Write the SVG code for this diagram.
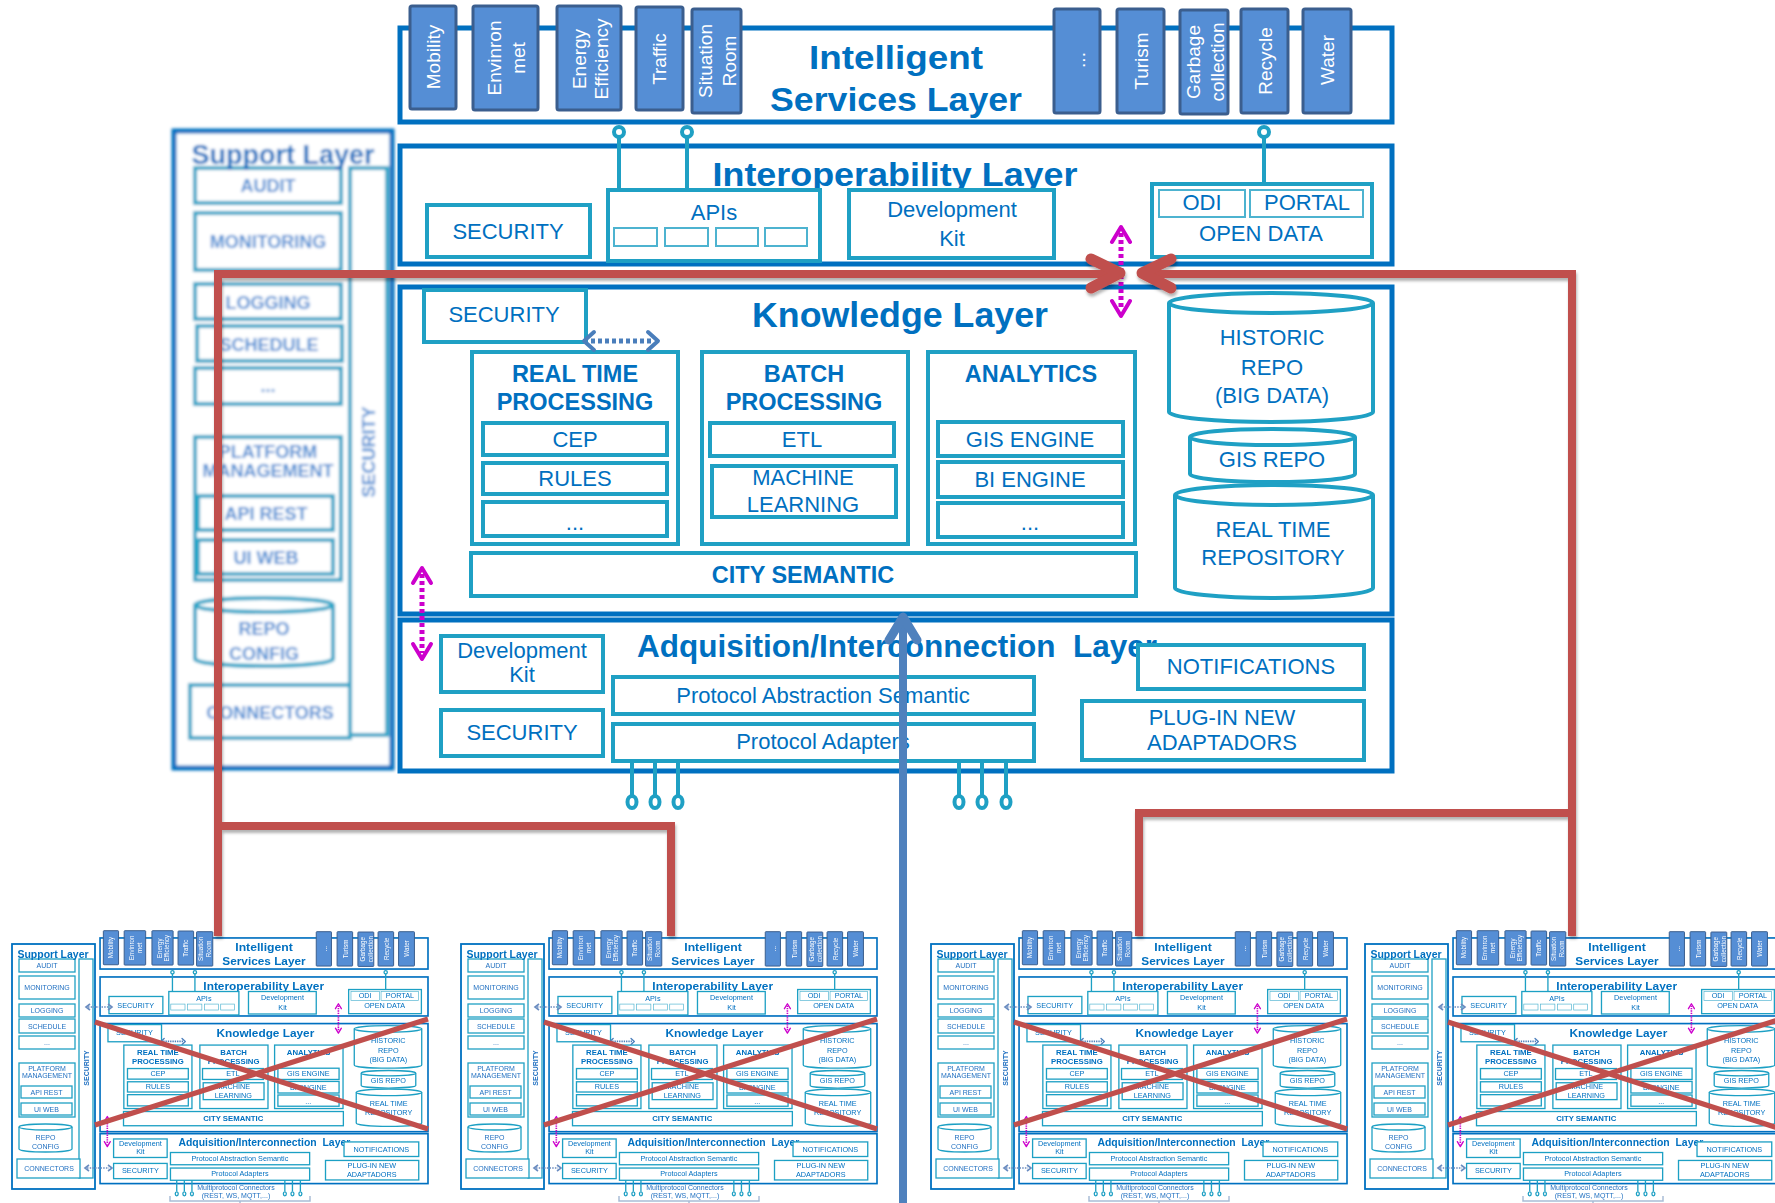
<svg xmlns="http://www.w3.org/2000/svg" width="1775" height="1203" viewBox="0 0 1775 1203">
<defs>
<style>
.lay{fill:#fff;stroke:#0070C0;stroke-width:5}
.bx{fill:#fff;stroke:#1FA0C4;stroke-width:4}
.bx2{fill:#fff;stroke:#4DB3D0;stroke-width:2}
.tile{fill:#558ED5;stroke:#3B5E8E;stroke-width:3}
.tt{font-family:"Liberation Sans",Arial,sans-serif;font-size:19px;fill:#fff;text-anchor:middle;dominant-baseline:central}
.ttl{font-family:"Liberation Sans",Arial,sans-serif;font-weight:bold;fill:#0070C0;text-anchor:middle}
.t{font-family:"Liberation Sans",Arial,sans-serif;fill:#0070C0;text-anchor:middle;font-size:22px}
.tb{font-family:"Liberation Sans",Arial,sans-serif;fill:#0070C0;text-anchor:middle;font-weight:bold;font-size:23.5px}
.lol{fill:none;stroke:#1FA0C4;stroke-width:4}
.lolc{fill:#fff;stroke:#1FA0C4;stroke-width:4}
.mag{fill:none;stroke:#CC00CC;stroke-width:4;stroke-linecap:round;stroke-linejoin:round}
.magd{fill:none;stroke:#CC00CC;stroke-width:5;stroke-dasharray:4 3}
.bla{fill:none;stroke:#4A7EBB;stroke-width:4;stroke-linecap:round;stroke-linejoin:round}
.blad{fill:none;stroke:#4A7EBB;stroke-width:5;stroke-dasharray:4 3}
.sbx{fill:#fff;stroke:#2BA6C8;stroke-width:4}
.st{font-family:"Liberation Sans",Arial,sans-serif;font-weight:bold;fill:#4A8DD3;text-anchor:middle;font-size:18px}
.mlay{fill:#fff;stroke:#0070C0;stroke-width:1.8}
.mbx{fill:#fff;stroke:#1FA0C4;stroke-width:1.3}
.mt{font-family:"Liberation Sans",Arial,sans-serif;fill:#1F6FC0;text-anchor:middle;font-size:7px}
.mda{fill:none;stroke:#6A8CC0;stroke-width:1.6;stroke-dasharray:1.5 1.2}
.mdh{fill:none;stroke:#6A8CC0;stroke-width:1.6}
.red{fill:none;stroke:#C0504D;stroke-width:8}
</style>
<filter id="blur" x="-5%" y="-5%" width="110%" height="110%"><feGaussianBlur stdDeviation="1.4"/></filter>
<filter id="soft" x="-2%" y="-2%" width="104%" height="104%"><feGaussianBlur stdDeviation="0.45"/></filter>
<filter id="shadow" filterUnits="userSpaceOnUse" x="0" y="0" width="1775" height="1203"><feDropShadow dx="1" dy="3" stdDeviation="1.5" flood-color="#000" flood-opacity="0.3"/></filter>
</defs>
<rect width="1775" height="1203" fill="#fff"/>

<g id="core">
 <g id="intelligent-layer">
  <rect class="lay" x="400" y="28" width="992" height="94"/>
  <text class="ttl" x="896" y="69" font-size="33" textLength="174" lengthAdjust="spacingAndGlyphs">Intelligent</text>
  <text class="ttl" x="896" y="111" font-size="33" textLength="252" lengthAdjust="spacingAndGlyphs">Services Layer</text>
 </g>
 <g id="svc-mobility"><rect class="tile" x="410" y="6" width="46" height="103" rx="2"/><text class="tt" transform="translate(433,57) rotate(-90)">Mobility</text></g>
 <g id="svc-environment"><rect class="tile" x="473" y="6" width="65" height="104" rx="2"/><text class="tt" transform="translate(494,58) rotate(-90)">Envinron</text><text class="tt" transform="translate(518,58) rotate(-90)">met</text></g>
 <g id="svc-energy"><rect class="tile" x="557" y="6" width="64" height="104" rx="2"/><text class="tt" font-size="17" transform="translate(579,59) rotate(-90)">Energy</text><text class="tt" font-size="17" transform="translate(601,59) rotate(-90)">Efficiency</text></g>
 <g id="svc-traffic"><rect class="tile" x="636" y="7" width="47" height="103" rx="2"/><text class="tt" transform="translate(659,59) rotate(-90)">Traffic</text></g>
 <g id="svc-situation"><rect class="tile" x="692" y="9" width="49" height="104" rx="2"/><text class="tt" transform="translate(705,61) rotate(-90)">Situation</text><text class="tt" transform="translate(729,61) rotate(-90)">Room</text></g>
 <g id="svc-more"><rect class="tile" x="1054" y="9" width="46" height="104" rx="2"/><text class="tt" transform="translate(1078,60) rotate(-90)">...</text></g>
 <g id="svc-turism"><rect class="tile" x="1117" y="9" width="47" height="104" rx="2"/><text class="tt" transform="translate(1141,61) rotate(-90)">Turism</text></g>
 <g id="svc-garbage"><rect class="tile" x="1180" y="10" width="48" height="104" rx="2"/><text class="tt" transform="translate(1193,62) rotate(-90)">Garbage</text><text class="tt" transform="translate(1217,62) rotate(-90)">collection</text></g>
 <g id="svc-recycle"><rect class="tile" x="1241" y="9" width="47" height="104" rx="2"/><text class="tt" transform="translate(1265,61) rotate(-90)">Recycle</text></g>
 <g id="svc-water"><rect class="tile" x="1303" y="9" width="48" height="104" rx="2"/><text class="tt" transform="translate(1327,60) rotate(-90)">Water</text></g>

 <g id="interop-layer">
  <rect class="lay" x="400" y="146" width="992" height="118"/>
  <text class="ttl" x="895" y="186" font-size="33" textLength="365" lengthAdjust="spacingAndGlyphs">Interoperability Layer</text>
 </g>
 <g id="interop-security"><rect class="bx" x="427" y="205" width="163" height="52"/><text class="t" x="508" y="239">SECURITY</text></g>
 <g id="apis"><rect class="bx" x="608" y="190" width="212" height="71"/><text class="t" x="714" y="220" font-size="24">APIs</text>
  <rect class="bx2" x="614" y="228" width="43" height="18"/><rect class="bx2" x="665" y="228" width="43" height="18"/><rect class="bx2" x="716" y="228" width="42" height="18"/><rect class="bx2" x="765" y="228" width="42" height="18"/></g>
 <g id="interop-devkit"><rect class="bx" x="849" y="190" width="205" height="68"/><text class="t" x="952" y="217" font-size="24">Development</text><text class="t" x="952" y="246" font-size="24">Kit</text></g>
 <g id="open-data"><rect class="bx" x="1152" y="184" width="220" height="73"/><rect class="bx2" x="1159" y="190" width="86" height="27"/><rect class="bx2" x="1250" y="190" width="113" height="27"/>
  <text class="t" x="1202" y="210" font-size="18">ODI</text><text class="t" x="1307" y="210" font-size="17.5">PORTAL</text><text class="t" x="1261" y="241" font-size="21.5">OPEN DATA</text></g>
 <g id="api-links">
  <path class="lol" d="M619,137 V190 M687,137 V190 M1264,137 V184"/>
  <circle class="lolc" cx="619" cy="132" r="5"/><circle class="lolc" cx="687" cy="132" r="5"/><circle class="lolc" cx="1264" cy="132" r="5"/>
 </g>

 <g id="knowledge-layer">
  <rect class="lay" x="400" y="287" width="992" height="327"/>
  <text class="ttl" x="900" y="327" font-size="35" textLength="296" lengthAdjust="spacingAndGlyphs">Knowledge Layer</text>
 </g>
 <g id="k-security"><rect class="bx" x="424" y="290" width="162" height="52"/><text class="t" x="504" y="322">SECURITY</text></g>
 <g id="real-time"><rect class="bx" x="472" y="352" width="206" height="192"/>
  <text class="tb" x="575" y="382">REAL TIME</text><text class="tb" x="575" y="410">PROCESSING</text>
  <rect class="bx" x="483" y="423" width="184" height="32"/><text class="t" x="575" y="447" font-size="21.5">CEP</text>
  <rect class="bx" x="483" y="463" width="184" height="31"/><text class="t" x="575" y="486" font-size="21.5">RULES</text>
  <rect class="bx" x="483" y="502" width="184" height="34"/><text class="t" x="575" y="530" font-size="21.5">...</text></g>
 <g id="batch"><rect class="bx" x="702" y="352" width="206" height="192"/>
  <text class="tb" x="804" y="382">BATCH</text><text class="tb" x="804" y="410">PROCESSING</text>
  <rect class="bx" x="710" y="423" width="184" height="33"/><text class="t" x="802" y="447" font-size="21.5">ETL</text>
  <rect class="bx" x="712" y="466" width="184" height="51"/><text class="t" x="803" y="485" font-size="21.5">MACHINE</text><text class="t" x="803" y="512" font-size="21.5">LEARNING</text></g>
 <g id="analytics"><rect class="bx" x="928" y="352" width="207" height="192"/>
  <text class="tb" x="1031" y="382">ANALYTICS</text>
  <rect class="bx" x="938" y="422" width="185" height="34"/><text class="t" x="1030" y="447" font-size="21.5">GIS ENGINE</text>
  <rect class="bx" x="938" y="462" width="185" height="35"/><text class="t" x="1030" y="487" font-size="21.5">BI ENGINE</text>
  <rect class="bx" x="938" y="503" width="185" height="34"/><text class="t" x="1030" y="530" font-size="21.5">...</text></g>
 <g id="city-semantic"><rect class="bx" x="471" y="553" width="665" height="43"/><text class="tb" x="803" y="583" font-size="23">CITY SEMANTIC</text></g>
 <g id="historic-repo"><path class="bx" d="M1169,303 V412 A102,10 0 0 0 1373,412 V303"/><ellipse class="bx" cx="1271" cy="303" rx="102" ry="10"/>
  <text class="t" x="1272" y="345" font-size="23">HISTORIC</text><text class="t" x="1272" y="375" font-size="23">REPO</text><text class="t" x="1272" y="403" font-size="23">(BIG DATA)</text></g>
 <g id="gis-repo"><path class="bx" d="M1190,437 V474 A82.5,8 0 0 0 1355,474 V437"/><ellipse class="bx" cx="1272.5" cy="437" rx="82.5" ry="8"/>
  <text class="t" x="1272" y="467" font-size="23">GIS REPO</text></g>
 <g id="rt-repo"><path class="bx" d="M1175,495 V588 A99,10 0 0 0 1373,588 V495"/><ellipse class="bx" cx="1274" cy="495" rx="99" ry="10"/>
  <text class="t" x="1273" y="537" font-size="23">REAL TIME</text><text class="t" x="1273" y="565" font-size="23">REPOSITORY</text></g>
 <g id="sec-link"><path class="blad" d="M591,341 H652"/><path class="bla" d="M594,332 L584,341 L594,350 M648,332 L658,341 L648,350"/></g>
 <g id="mag-link-top"><path class="magd" d="M1121,233 V310"/><path class="mag" d="M1112,242 L1121,227 L1130,242 M1112,301 L1121,316 L1130,301"/></g>

 <g id="adq-layer">
  <rect class="lay" x="400" y="620" width="992" height="151"/>
  <text class="ttl" xml:space="preserve" x="897" y="657" font-size="31" textLength="520" lengthAdjust="spacingAndGlyphs">Adquisition/Interconnection  Layer</text>
 </g>
 <g id="mag-link-left"><path class="magd" d="M422,574 V653"/><path class="mag" d="M413,583 L422,568 L431,583 M413,644 L422,659 L431,644"/></g>
 <g id="adq-devkit"><rect class="bx" x="441" y="636" width="162" height="56"/><text class="t" x="522" y="658" font-size="19.5">Development</text><text class="t" x="522" y="682" font-size="19.5">Kit</text></g>
 <g id="adq-security"><rect class="bx" x="441" y="710" width="162" height="46"/><text class="t" x="522" y="740">SECURITY</text></g>
 <g id="protocol-abstraction"><rect class="bx" x="613" y="677" width="421" height="37"/><text class="t" x="823" y="703" font-size="24">Protocol Abstraction Semantic</text></g>
 <g id="protocol-adapters"><rect class="bx" x="613" y="724" width="421" height="37"/><text class="t" x="823" y="749" font-size="24">Protocol Adapters</text></g>
 <g id="notifications"><rect class="bx" x="1138" y="645" width="226" height="44"/><text class="t" x="1251" y="674" font-size="21.3">NOTIFICATIONS</text></g>
 <g id="plugin"><rect class="bx" x="1082" y="701" width="282" height="59"/><text class="t" x="1222" y="725" font-size="21.5">PLUG-IN NEW</text><text class="t" x="1222" y="750" font-size="21.5">ADAPTADORS</text></g>
 <g id="adapter-links">
  <path class="lol" d="M632,761 V795 M655,761 V795 M678,761 V795 M959,761 V795 M982,761 V795 M1006,761 V795"/>
  <ellipse class="lolc" cx="632" cy="802" rx="4.5" ry="6"/><ellipse class="lolc" cx="655" cy="802" rx="4.5" ry="6"/><ellipse class="lolc" cx="678" cy="802" rx="4.5" ry="6"/>
  <ellipse class="lolc" cx="959" cy="802" rx="4.5" ry="6"/><ellipse class="lolc" cx="982" cy="802" rx="4.5" ry="6"/><ellipse class="lolc" cx="1006" cy="802" rx="4.5" ry="6"/>
 </g>
</g>

<g id="support-layer" filter="url(#blur)">
 <rect x="174" y="131" width="218" height="637" fill="#fff" stroke="#0070C0" stroke-width="5"/>
 <rect class="sbx" x="350" y="168" width="37" height="567"/>
 <text class="st" transform="translate(369,452) rotate(-90)" dominant-baseline="central">SECURITY</text>
 <rect class="sbx" x="195" y="168" width="146" height="35"/><text class="st" x="268" y="192">AUDIT</text>
 <rect class="sbx" x="195" y="213" width="146" height="57"/><text class="st" x="268" y="248">MONITORING</text>
 <rect class="sbx" x="195" y="284" width="146" height="35"/><text class="st" x="268" y="309">LOGGING</text>
 <rect class="sbx" x="197" y="326" width="145" height="35"/><text class="st" x="269" y="351">SCHEDULE</text>
 <rect class="sbx" x="195" y="368" width="146" height="36"/><text class="st" x="268" y="392">...</text>
 <rect class="sbx" x="195" y="437" width="146" height="143"/><text class="st" x="268" y="458" font-size="16">PLATFORM</text><text class="st" x="268" y="477" font-size="16">MANAGEMENT</text>
 <rect class="sbx" x="198" y="496" width="135" height="34"/><text class="st" x="266" y="520">API REST</text>
 <rect class="sbx" x="198" y="540" width="135" height="34"/><text class="st" x="266" y="564">UI WEB</text>
 <path class="sbx" d="M195,605 V659 A69,7 0 0 0 333,659 V605"/><ellipse class="sbx" cx="264" cy="605" rx="69" ry="7"/>
 <text class="st" x="264" y="635" font-size="20">REPO</text><text class="st" x="264" y="660" font-size="20">CONFIG</text>
 <rect class="sbx" x="190" y="685" width="160" height="53"/><text class="st" x="270" y="719">CONNECTORS</text>
 <text class="ttl" x="283" y="164" font-size="27" fill="#1F64B8">Support Layer</text>
</g>

<g id="mini-1" filter="url(#soft)">
 <use href="#core" transform="translate(-32.2,928.7) scale(0.3306)"/>
 <g transform="translate(0,920)">
  <rect class="mlay" x="12" y="24" width="83" height="245"/>
  <rect class="mbx" x="79" y="39" width="14" height="219"/>
  <text class="mt" font-weight="bold" transform="translate(86.5,148) rotate(-90)" dominant-baseline="central">SECURITY</text>
  <rect class="mbx" x="19" y="39" width="56" height="13"/><text class="mt" x="47" y="48">AUDIT</text>
  <rect class="mbx" x="19" y="56" width="56" height="23"/><text class="mt" x="47" y="70">MONITORING</text>
  <rect class="mbx" x="19" y="84" width="56" height="13"/><text class="mt" x="47" y="93">LOGGING</text>
  <rect class="mbx" x="19" y="99" width="56" height="14"/><text class="mt" x="47" y="108.5">SCHEDULE</text>
  <rect class="mbx" x="19" y="116" width="56" height="13"/><text class="mt" x="47" y="125">...</text>
  <rect class="mbx" x="19" y="143" width="56" height="54"/><text class="mt" x="47" y="150.5" font-size="5.6">PLATFORM</text><text class="mt" x="47" y="157.5" font-size="5.6">MANAGEMENT</text>
  <rect class="mbx" x="21" y="166" width="51" height="12"/><text class="mt" x="46.5" y="174.5">API REST</text>
  <rect class="mbx" x="21" y="183" width="51" height="12"/><text class="mt" x="46.5" y="191.5">UI WEB</text>
  <path class="mbx" d="M19,207 V229 A26.5,3 0 0 0 72,229 V207"/><ellipse class="mbx" cx="45.5" cy="207" rx="26.5" ry="3"/>
  <text class="mt" x="45.5" y="219.5" font-size="7.5">REPO</text><text class="mt" x="45.5" y="228.5" font-size="7.5">CONFIG</text>
  <rect class="mbx" x="17" y="239" width="63" height="19"/><text class="mt" x="49" y="251" font-size="7.2">CONNECTORS</text>
  <text class="ttl" x="53" y="37.5" font-size="10.5">Support Layer</text>
  <path class="mda" d="M88,87 H109 M87,248 H109"/>
  <path class="mdh" d="M90,84 L86,87 L90,90 M108,84 L112,87 L108,90 M89,245 L85,248 L89,251 M108,245 L112,248 L108,251"/>
  <text class="mt" x="236" y="270" font-size="5.8" fill="#3A6EAE">Multiprotocol Connectors</text>
  <text class="mt" x="236" y="277.5" font-size="5.8" fill="#3A6EAE">(REST, WS, MQTT,...)</text>
  <path d="M170,276 V281 H310 V276 M240,281 V284" fill="none" stroke="#A9BDD6" stroke-width="1.5"/>
  <path d="M95,102 L428,209 M95,205 L428,99" fill="none" stroke="#C0504D" stroke-width="5"/>
 </g>
</g>
<g id="mini-2"><use href="#mini-1" transform="translate(449,0)"/></g>
<g id="mini-3"><use href="#mini-1" transform="translate(919,0)"/></g>
<g id="mini-4"><use href="#mini-1" transform="translate(1353,0)"/></g>

<g id="connectors">
 <g id="red-links" filter="url(#shadow)">
  <path class="red" d="M218,936 V274 H1116"/>
  <path class="red" d="M218,826 H671 V936"/>
  <path class="red" d="M1572,936 V274 H1145"/>
  <path class="red" d="M1572,813 H1139 V936"/>
  <path d="M1091,259 L1120,273 L1091,288 M1171,259 L1142,273 L1171,288" fill="none" stroke="#C0504D" stroke-width="11" stroke-linecap="round" stroke-linejoin="round"/>
 </g>
 <g id="blue-flow">
  <path d="M903,1203 V620" fill="none" stroke="#4F81BD" stroke-width="8"/>
  <path d="M889,640 L903,617 L917,640" fill="none" stroke="#4F81BD" stroke-width="9" stroke-linecap="round" stroke-linejoin="round"/>
 </g>
</g>
</svg>
